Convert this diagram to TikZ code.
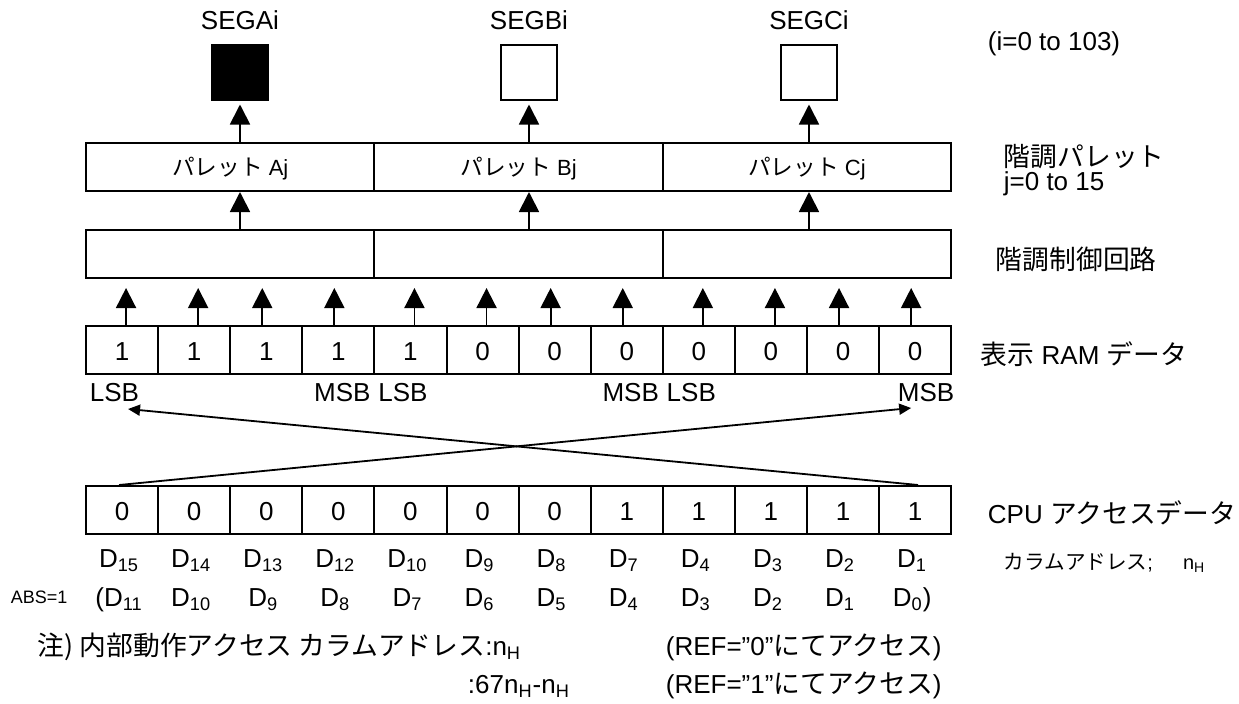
\documentclass[tikz,border=0pt]{standalone}
\usepackage{fontspec}
\setmainfont{Liberation Sans}
\newfontfamily\jp[Scale=1.03]{Noto Sans CJK JP}
\usepackage{tikz}
\usetikzlibrary{arrows.meta,calc}
\newcommand{\arrowbig}{-{Triangle[length=10pt,width=10pt]}}
\newcommand{\arrowsmall}{-{Triangle[length=6pt,width=5.5pt]}}
\tikzset{
    bitcell/.style={draw,line width=1pt,minimum width=36.05pt,minimum height=24pt,inner sep=0pt,text height=12pt,text depth=1.4pt,font=\fontsize{13}{15}\selectfont},
    block/.style={draw,line width=1pt,minimum width=144.2pt,minimum height=24pt,inner sep=0pt,text height=9pt,text depth=0.5pt,font=\fontsize{11}{13}\selectfont},
    seg/.style={draw,line width=1pt,minimum width=28pt,minimum height=27.5pt,inner sep=0pt},
    txt/.style={inner sep=0pt,font=\fontsize{13}{15}\selectfont},
    small/.style={inner sep=0pt,font=\fontsize{10}{12}\selectfont}
}

\begin{document}
\begin{tikzpicture}[x=0.5pt,y=-0.5pt,line width=0.9pt]
        \useasboundingbox (0,0) rectangle (1239,703);
        \foreach \v [count=\i] in {1,1,1,1,1,0,0,0,0,0,0,0}
            \node[bitcell] (r\i) at ({86+72.1*(\i-0.5)},350) {\v};
        \foreach \v [count=\i] in {0,0,0,0,0,0,0,1,1,1,1,1}
            \node[bitcell] (c\i) at ({86+72.1*(\i-0.5)},510) {\v};
        \node[block] (pA) at (230.2,167) {{\jp パレット} Aj};
        \node[block] (pB) at (518.6,167) {{\jp パレット} Bj};
        \node[block] (pC) at (807,167) {{\jp パレット} Cj};
        \node[block] (kA) at (230.2,254) {};
        \node[block] (kB) at (518.6,254) {};
        \node[block] (kC) at (807,254) {};
        \node[seg,fill=black] (sA) at (240,72) {};
        \node[seg] (sB) at (529,72) {};
        \node[seg] (sC) at (809,72) {};
        \node[txt,anchor=base] (segA) at ([yshift=7pt]sA.north) {SEGAi};
        \node[txt,anchor=base] (segB) at ([yshift=7pt]sB.north) {SEGBi};
        \node[txt,anchor=base] (segC) at ([yshift=7pt]sC.north) {SEGCi};
        \foreach \s/\p/\k in {sA/pA/kA,sB/pB/kB,sC/pC/kC} {
            \draw[\arrowbig,shorten >=2pt] (\s.south |- \p.north) -- (\s.south);
            \draw[\arrowbig] (\s.south |- \k.north) -- (\s.south |- \p.south);
        }
        \foreach \i in {1,...,12} {
            \pgfmathsetmacro{\dx}{mod(\i-1,4)<2 ? 2 : -2}
            \draw[\arrowbig,shorten >=4.5pt] ([xshift=\dx pt]r\i.north) -- ([xshift=\dx pt]r\i.north |- kA.south);
        }
        \node[txt,anchor=base west] (lsbA) at ([shift={(2pt,-13pt)}]r1.south west) {LSB};
        \node[txt,anchor=base east] (msbA) at ([shift={(-2pt,-13pt)}]r4.south east) {MSB};
        \node[txt,anchor=base west] (lsbB) at ([shift={(2pt,-13pt)}]r5.south west) {LSB};
        \node[txt,anchor=base east] (msbB) at ([shift={(-2pt,-13pt)}]r8.south east) {MSB};
        \node[txt,anchor=base west] (lsbC) at ([shift={(2pt,-13pt)}]r9.south west) {LSB};
        \node[txt,anchor=base east] (msbC) at ([shift={(1.5pt,-13pt)}]r12.south east) {MSB};
        \coordinate (lsbtip) at ([shift={(3pt,-17pt)}]r1.south);
        \coordinate (msbtip) at ([shift={(-2pt,-16.5pt)}]r12.south);
        \draw[\arrowsmall] ([xshift=1.5pt]c12.north) -- (lsbtip);
        \draw[\arrowsmall] ([xshift=-1.5pt]c1.north) -- (msbtip);
        \foreach \d [count=\i] in {15,14,13,12,10,9,8,7,4,3,2,1}
            \node[txt,anchor=base] (d\i) at ([shift={(-1.5pt,-16pt)}]c\i.south) {D\textsubscript{\d}};
        \foreach \d [count=\i] in {11,10,...,0}
            \node[txt,anchor=base] (a\i) at ([shift={(-1.5pt,-35.5pt)}]c\i.south) {\ifnum\i=1 (\fi D\textsubscript{\d}\ifnum\i=12 )\fi};
        \node[txt,anchor=base west] (irange) at (987,50) {(i=0 to 103)};
        \node[txt,anchor=base west] (paltitle) at (1003,166) {\jp 階調パレット};
        \node[txt,anchor=base west] (jrange) at (1003,190) {j=0 to 15};
        \node[txt,anchor=base west] (ctltitle) at (995,269) {\jp 階調制御回路};
        \node[txt,anchor=base west] (ramtitle) at (980,364) {{\jp 表示} RAM {\jp データ}};
        \node[txt,anchor=base west] (cputitle) at (987,523) {CPU {\jp アクセスデータ}};
        \node[small,anchor=base west] (coladdr) at (1003,569) {{\jp カラムアドレス};\hspace{15pt}n\textsubscript{H}};
        \node[small,anchor=base west,font=\fontsize{9}{11}\selectfont] (abs) at (10,603) {ABS=1};
        \node[txt,anchor=base west] (note) at (37,655) {{\jp 注) 内部動作アクセス カラムアドレス}:n\textsubscript{H}};
        \node[txt,anchor=base west] (noteb) at (467,693) {:67n\textsubscript{H}-n\textsubscript{H}};
        \node[txt,anchor=base west] (ref0) at (665,655) {(REF=”0”{\jp にてアクセス})};
        \node[txt,anchor=base west] (ref1) at (665,693) {(REF=”1”{\jp にてアクセス})};
\end{tikzpicture}
\end{document}
